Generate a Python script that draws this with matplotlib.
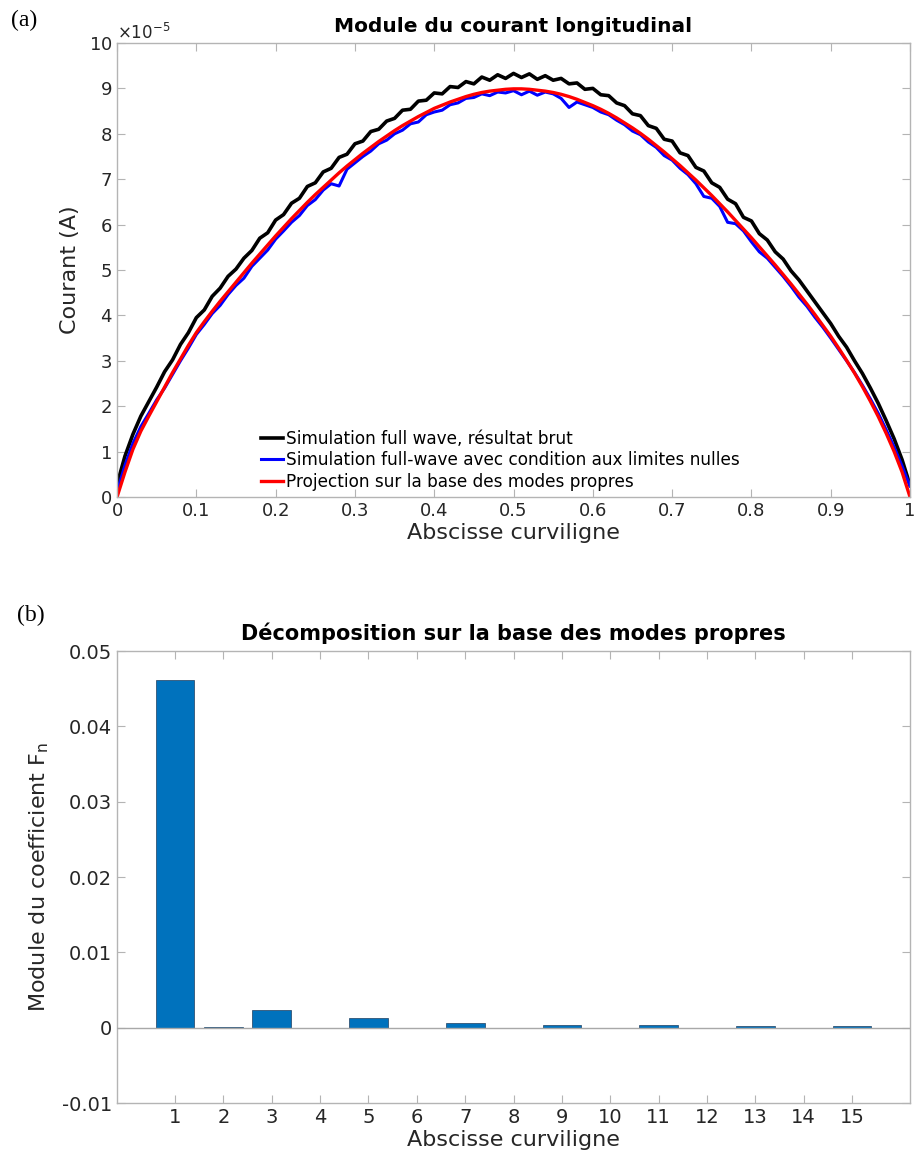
import numpy as np
import matplotlib
matplotlib.use("Agg")
import matplotlib.pyplot as plt
from matplotlib.ticker import FuncFormatter, ScalarFormatter

# ---------------------------------------------------------------
# data (currents in units of 1e-5 A)
abscisse = np.arange(101) / 100.0

courant_brut = [
    0.28, 0.90, 1.38, 1.78, 2.10, 2.42, 2.76, 3.02, 3.36, 3.62,
    3.95, 4.12, 4.42, 4.60, 4.86, 5.02, 5.26, 5.43, 5.70, 5.82,
    6.10, 6.22, 6.47, 6.58, 6.84, 6.92, 7.16, 7.24, 7.48, 7.55,
    7.78, 7.84, 8.05, 8.10, 8.28, 8.34, 8.52, 8.54, 8.72, 8.74,
    8.90, 8.88, 9.04, 9.02, 9.15, 9.10, 9.25, 9.18, 9.30, 9.22,
    9.33, 9.24, 9.32, 9.20, 9.28, 9.18, 9.22, 9.10, 9.12, 8.98,
    9.00, 8.86, 8.84, 8.68, 8.62, 8.44, 8.40, 8.18, 8.12, 7.88,
    7.84, 7.58, 7.52, 7.26, 7.18, 6.92, 6.82, 6.56, 6.46, 6.16,
    6.08, 5.80, 5.66, 5.40, 5.24, 4.98, 4.78, 4.54, 4.30, 4.06,
    3.82, 3.54, 3.30, 3.00, 2.72, 2.40, 2.06, 1.68, 1.28, 0.82,
    0.26]

courant_cl_nulles = [
    0.12, 0.70, 1.18, 1.55, 1.84, 2.14, 2.40, 2.70, 3.00, 3.28,
    3.58, 3.80, 4.04, 4.22, 4.46, 4.66, 4.82, 5.08, 5.26, 5.44,
    5.68, 5.86, 6.05, 6.20, 6.42, 6.55, 6.76, 6.90, 6.85, 7.22,
    7.36, 7.50, 7.62, 7.78, 7.86, 8.00, 8.08, 8.22, 8.26, 8.42,
    8.48, 8.52, 8.64, 8.68, 8.78, 8.80, 8.88, 8.84, 8.92, 8.90,
    8.95, 8.86, 8.94, 8.85, 8.92, 8.88, 8.78, 8.58, 8.70, 8.64,
    8.58, 8.48, 8.42, 8.30, 8.20, 8.06, 7.98, 7.82, 7.70, 7.52,
    7.42, 7.24, 7.10, 6.90, 6.62, 6.58, 6.40, 6.05, 6.02, 5.86,
    5.62, 5.40, 5.26, 5.06, 4.86, 4.64, 4.40, 4.20, 3.96, 3.74,
    3.50, 3.25, 3.00, 2.74, 2.46, 2.16, 1.84, 1.48, 1.10, 0.68,
    0.24]

courant_projection = [
    0.00, 0.55, 1.05, 1.45, 1.78, 2.10, 2.42, 2.74, 3.04, 3.34,
    3.62, 3.86, 4.09, 4.31, 4.52, 4.73, 4.94, 5.15, 5.35, 5.55,
    5.75, 5.94, 6.13, 6.31, 6.49, 6.66, 6.82, 6.98, 7.14, 7.29,
    7.43, 7.57, 7.70, 7.83, 7.95, 8.07, 8.18, 8.28, 8.38, 8.47,
    8.56, 8.63, 8.70, 8.76, 8.82, 8.87, 8.91, 8.94, 8.96, 8.98,
    8.99, 8.99, 8.98, 8.96, 8.94, 8.91, 8.87, 8.82, 8.76, 8.69,
    8.62, 8.54, 8.45, 8.35, 8.24, 8.13, 8.01, 7.88, 7.74, 7.60,
    7.45, 7.30, 7.14, 6.98, 6.81, 6.64, 6.46, 6.28, 6.09, 5.90,
    5.71, 5.51, 5.31, 5.11, 4.90, 4.69, 4.47, 4.25, 4.02, 3.78,
    3.54, 3.28, 3.01, 2.73, 2.43, 2.11, 1.77, 1.40, 1.00, 0.55,
    0.00]

labels = ['Simulation full wave, résultat brut',
          'Simulation full-wave avec condition aux limites nulles',
          'Projection sur la base des modes propres']

modes = list(range(1, 16))
coef_fn = [0.0462, 0.0001, 0.0024, 0.0, 0.00135, 0.0, 0.00065,
           0.0, 0.0004, 0.0, 0.00035, 0.0, 0.0002, 0.0, 0.0002]

# ---------------------------------------------------------------
plt.rcParams['font.family'] = ['DejaVu Sans']
spine_col = '#b4b4b4'
txt_col = '#262626'

fig = plt.figure(figsize=(9.18, 11.59), dpi=100)

def style_axes(ax):
    for s in ax.spines.values():
        s.set_color(spine_col)
        s.set_linewidth(1.0)
    ax.tick_params(direction='in', length=6, width=0.8, color=spine_col,
                   top=True, right=True, labelcolor=txt_col, labelsize=13)

fmt_g = FuncFormatter(lambda v, p: '%g' % round(v, 6))

# (a) courant longitudinal
ax1 = fig.add_axes([0.1275, 0.5712, 0.8638, 0.3917])
scale = 1e-5
ax1.plot(abscisse, np.array(courant_brut) * scale, color='black', lw=2.6, label=labels[0])
ax1.plot(abscisse, np.array(courant_cl_nulles) * scale, color='blue', lw=2.2, label=labels[1])
ax1.plot(abscisse, np.array(courant_projection) * scale, color='red', lw=2.4, label=labels[2])
ax1.set_xlim(0, 1)
ax1.set_ylim(0, 10e-5)
ax1.set_xticks(np.arange(11) / 10)
ax1.set_yticks(np.arange(11) * scale)
ax1.xaxis.set_major_formatter(fmt_g)
sf = ScalarFormatter(useMathText=True)
sf.set_powerlimits((-5, -5))
ax1.yaxis.set_major_formatter(sf)
style_axes(ax1)
ax1.yaxis.get_offset_text().set_fontsize(12)
ax1.yaxis.get_offset_text().set_color(txt_col)
ax1.set_title('Module du courant longitudinal', fontsize=14.5, fontweight='bold', pad=8)
ax1.set_xlabel('Abscisse curviligne', fontsize=16, color=txt_col, labelpad=2)
ax1.set_ylabel('Courant (A)', fontsize=16, color=txt_col, labelpad=6)
ax1.legend(loc='lower left', bbox_to_anchor=(0.182, 0.014), frameon=False,
           fontsize=12.2, handlelength=1.3, handletextpad=0.15,
           labelspacing=0.2, borderaxespad=0, borderpad=0)

# (b) decomposition
ax2 = fig.add_axes([0.1275, 0.0483, 0.8638, 0.39])
ax2.bar(modes, coef_fn, width=0.8, color='#0072BD', edgecolor='#1f3f5f', linewidth=0.5)
ax2.axhline(0, color='#a8a8a8', lw=1.0, zorder=3)
ax2.set_xlim(-0.2, 16.2)
ax2.set_ylim(-0.01, 0.05)
ax2.set_xticks(modes)
ax2.set_yticks([-0.01, 0, 0.01, 0.02, 0.03, 0.04, 0.05])
ax2.yaxis.set_major_formatter(fmt_g)
style_axes(ax2)
ax2.tick_params(labelsize=14)
ax2.set_title('Décomposition sur la base des modes propres', fontsize=15, fontweight='bold', pad=8)
ax2.set_xlabel('Abscisse curviligne', fontsize=16, color=txt_col, labelpad=2)
ax2.set_ylabel('Module du coefficient F$_\\mathregular{n}$', fontsize=16, color=txt_col, labelpad=8)

fig.text(0.012, 0.982, '(a)', fontsize=17, family='Liberation Serif', va='center')
fig.text(0.018, 0.469, '(b)', fontsize=17, family='Liberation Serif', va='center')

fig.savefig('out.png', dpi=100)
